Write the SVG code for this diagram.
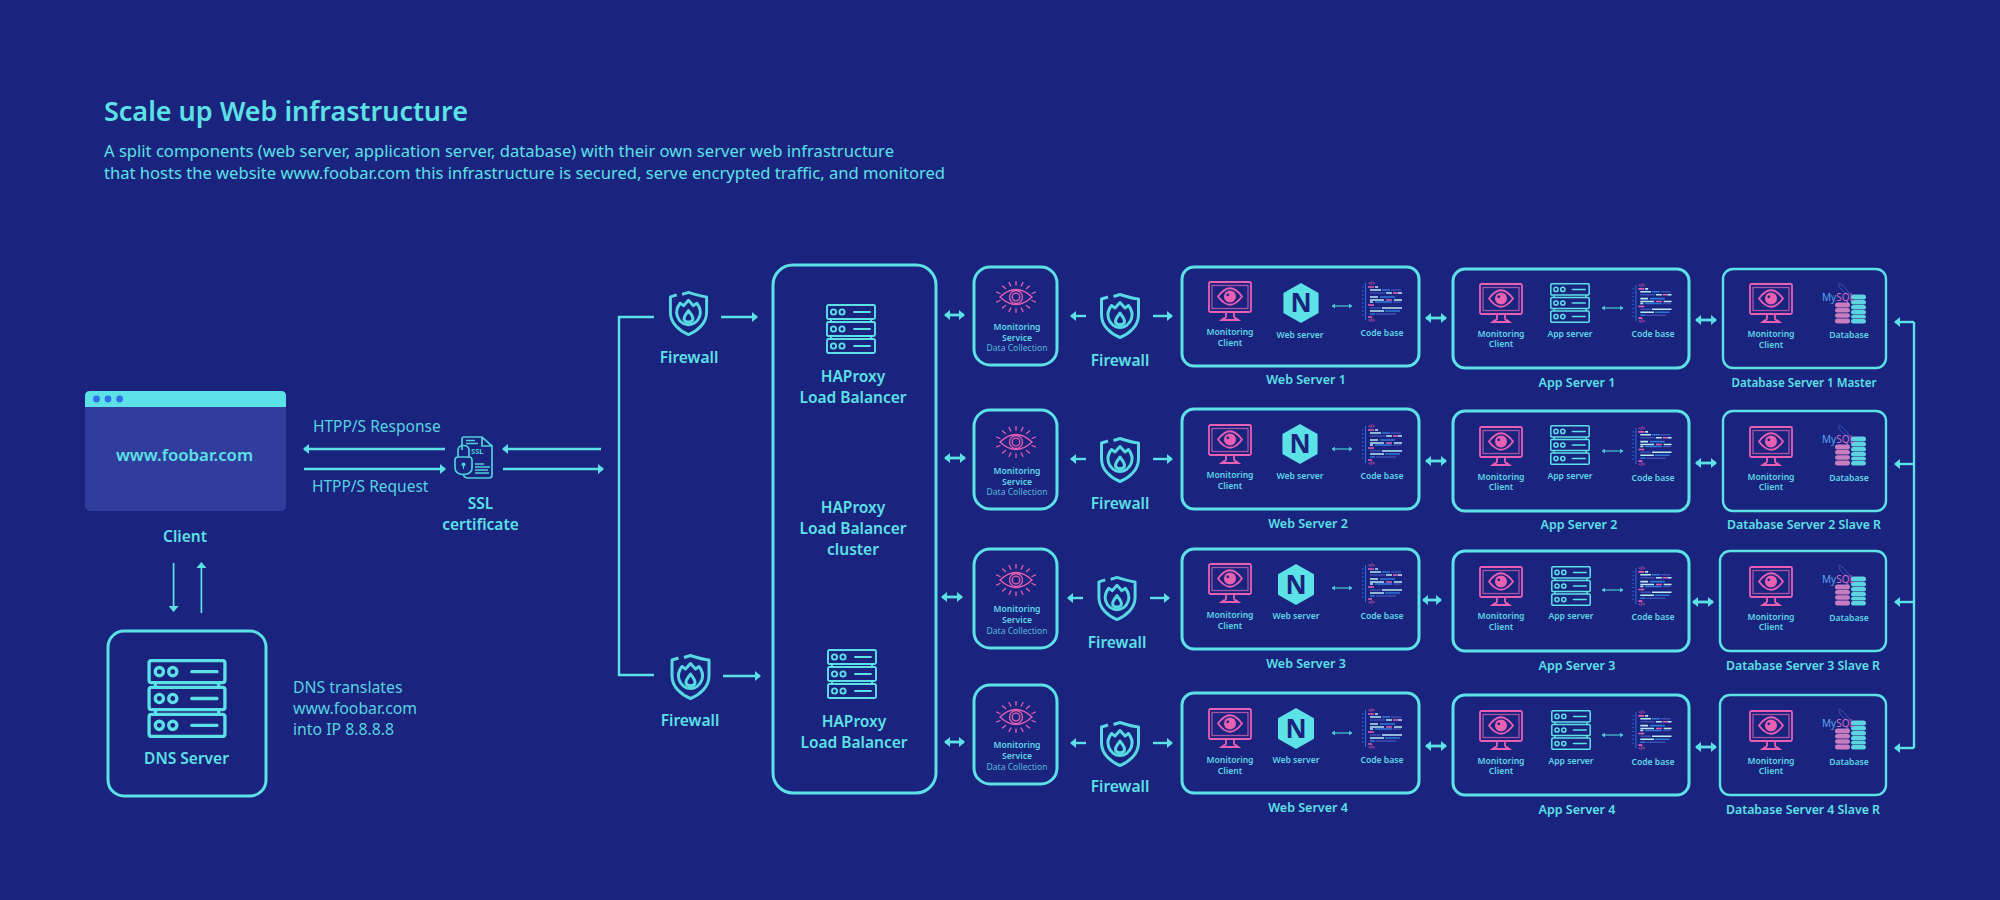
<svg xmlns="http://www.w3.org/2000/svg" width="2000" height="900" viewBox="0 0 2000 900">
<style>
text{font-family:"Noto Sans","Open Sans",sans-serif;fill:#5ce1e6}
.m{text-anchor:middle}
.title{font-size:27px;font-weight:600}
.body{font-size:16.5px;font-weight:400}
.note{font-size:15.5px;font-weight:400;fill:#57d3e0}
.lab{font-size:15.5px;font-weight:600}
.cap{font-size:12.5px;font-weight:600}
.sm{font-size:8.6px;font-weight:600;fill:#5fd6e6}
.dc{font-size:8.6px;font-weight:400;fill:#58b8dc}
.nx{font-size:26px;font-weight:700;fill:#1a237e}
.my{font-size:10px;font-weight:400;fill:#58a8ee}
.box{fill:none;stroke:#5ce1e6;stroke-width:3}
.thin{fill:none;stroke:#5ce1e6;stroke-width:2.4}
.con{fill:none;stroke:#5ce1e6;stroke-width:2.4}
.con2{fill:none;stroke:#5ce1e6;stroke-width:2.4;marker-end:url(#ah)}
.bi{fill:none;stroke:#5ce1e6;stroke-width:2.8;marker-start:url(#ah);marker-end:url(#ah)}
.tiny{fill:none;stroke:#4fc5d2;stroke-width:1.2;marker-start:url(#as);marker-end:url(#as)}
.ic{fill:none;stroke:#5ce1e6;stroke-width:var(--w,1.9)}
.pk{fill:none;stroke:#e95fb2;stroke-width:1.8}
.fw{fill:none;stroke:#57d8e2;stroke-width:3;stroke-linejoin:round}
</style>
<defs>
<marker id="ah" viewBox="0 0 6 10" refX="5" refY="5" markerWidth="6" markerHeight="10" markerUnits="userSpaceOnUse" orient="auto-start-reverse"><path d="M0 0L6 5L0 10Z" fill="#5ce1e6"/></marker>
<marker id="as" viewBox="0 0 4 6" refX="3.500" refY="3" markerWidth="3.500" markerHeight="5" markerUnits="userSpaceOnUse" orient="auto-start-reverse"><path d="M0 0L4 3L0 6Z" fill="#4fc5d2"/></marker>
<symbol id="mon" viewBox="0 0 44 40">
<rect x="1" y="1" width="42" height="30" rx="1.500" class="pk"/>
<rect x="4" y="4.500" width="36" height="23" fill="none" stroke="#a854a8" stroke-width="1.300"/>
<path d="M10 15.500Q22 -1 34 15.500Q22 32 10 15.500Z" class="pk"/>
<circle cx="22" cy="15.500" r="6" fill="#e95fb2"/><circle cx="19.800" cy="13.800" r="1.400" fill="#1a237e"/>
<path d="M18 31V35.500Q18 37 15.500 37.500L13.500 39H30.500L28.500 37.500Q26 37 26 35.500V31" class="pk"/>
</symbol>
<symbol id="srv" viewBox="0 0 50 50">
<g class="ic"><rect x="1" y="1" width="48" height="14" rx="1.500"/><rect x="1" y="18" width="48" height="14" rx="1.500"/><rect x="1" y="35" width="48" height="14" rx="1.500"/>
<path d="M5 15V18M45 15V18M5 32V35M45 32V35"/>
<circle cx="7.500" cy="8" r="2.600"/><circle cx="16" cy="8" r="2.600"/><circle cx="7.500" cy="25" r="2.600"/><circle cx="16" cy="25" r="2.600"/><circle cx="7.500" cy="42" r="2.600"/><circle cx="16" cy="42" r="2.600"/>
<path d="M28 8H44M28 25H44M28 42H44" stroke-linecap="round"/></g>
</symbol>
<symbol id="shield" viewBox="0 0 42 46">
<g class="fw"><path d="M9 4L2.500 6V22C2.500 33 12 41 21 44.500C30 41 39.500 33 39.500 22V6C33 5.500 27 3.500 21 1.500L14.500 3.500"/>
<path d="M21 9.500L26 15L29.500 12.500C33 17 34 21 32.500 25.500C30.500 31.500 25.500 34.500 21 34.500C16.500 34.500 11.500 31.500 9.500 25.500C8 21 9 17 12.500 12.500L16 15Z"/>
<path d="M21 20C23.500 24 26 26 25.500 29C24.500 32.500 17.500 32.500 16.500 29C16 26 18.500 24 21 20Z"/></g>
</symbol>
<symbol id="eye" viewBox="0 0 40 32">
<g fill="none" stroke="#e95fb2" stroke-width="1.300"><path d="M4 16Q20 1 36 16Q20 31 4 16Z"/><circle cx="20" cy="16" r="6.500"/><circle cx="20" cy="16" r="3.800"/>
<path stroke-linecap="round" d="M20 0V4M13 1.500L14.800 5M27 1.500L25.200 5M6.500 5L9.500 7.500M33.500 5L30.500 7.500M0.500 11L4 12.500M39.500 11L36 12.500M0.500 21L4 19.500M39.500 21L36 19.500M6.500 27L9.500 24.500M33.500 27L30.500 24.500M13 30.500L14.800 27M27 30.500L25.200 27M20 32V28"/></g>
</symbol>
<symbol id="hex" viewBox="0 0 36 41"><path d="M18 0L36 10.200V30.800L18 41L0 30.800V10.200Z" fill="#5ce1e6"/></symbol>
<symbol id="code" viewBox="0 0 41 41">
<rect x="3" y="2" width="1" height="37" fill="#2f6fe0"/>
<path d="M0 6h1.500M0 10h1.500M0 14h1.500M0 18h1.500M0 22h1.500M0 26h1.500M0 30h1.500M0 34h1.500" stroke="#2f78e8" stroke-width="1"/>
<g stroke-width="1.600"><path stroke="#e95fb2" d="M6 6h6M31 12h5M6 24h6M24 19h6M6 36h4"/>
<path stroke="#b8ecf4" d="M13 6h3M8 9h11M36 12h4M8 16h8M8 19h14M32 19h8M8 21h3M20 27h20M8 30h14M24 12h6"/>
<path stroke="#2f78d8" d="M20 9h8M18 16h15M13 21h17M23 30h15M8 33h5"/>
<path stroke="#3c4fb0" d="M29 9h10M8 12h15M31 21h8M8 27h11M14 33h20"/></g>
<text x="6" y="4" style="font-size:4.500px;fill:#e95fb2;font-weight:600">&lt;/&gt;</text>
<text x="6" y="40.500" style="font-size:4.500px;fill:#e95fb2;font-weight:600">&lt;/&gt;</text>
</symbol>
<symbol id="db" viewBox="0 0 46 42">
<path d="M17 0C21 2 25 6 28 12M17 0C16 4 20 8 24 10" fill="none" stroke="#3c55c0" stroke-width="0.900"/>
<g fill="#c77dc0"><rect x="13" y="19.500" width="15" height="5" rx="2.500"/><rect x="13" y="25" width="15" height="4.600" rx="2.300"/><rect x="13" y="30.200" width="15" height="4.600" rx="2.300"/><rect x="13" y="35.400" width="15" height="5.100" rx="2.300"/></g>
<g fill="#5cd3de"><rect x="29" y="11.500" width="15" height="5" rx="2.500"/><rect x="29" y="17" width="15" height="4.400" rx="2.200"/><rect x="29" y="22" width="15" height="4.400" rx="2.200"/><rect x="29" y="27" width="15" height="4.400" rx="2.200"/><rect x="29" y="32" width="15" height="3.500" rx="1.700"/><rect x="29" y="36" width="15" height="4.500" rx="2.200"/></g>
</symbol>
<symbol id="cert" viewBox="0 0 39 43">
<g fill="none" stroke="#50cfd8" stroke-width="1.700"><path d="M8 14V3Q8 1 10 1H28L38 10V39Q38 42 35 42H14Q10 42 9 38"/><path d="M28 1V10H38"/>
<path d="M4 21V14.500Q4 9.500 9.500 9.500Q15 9.500 15 14.500V21"/><path d="M1 24Q1 21 4 21H15Q18 21 18 24V32Q18 38 9.500 38.500Q1 38 1 32Z"/>
<path d="M12 4.500H21M12 7.500H24M21 31H36M21 34H34M21 37H35M21 28H30"/></g>
<circle cx="9.500" cy="28.500" r="2" fill="#50cfd8"/><rect x="9" y="29" width="1" height="4" fill="#50cfd8"/>
<text x="17" y="18" style="font-size:7.500px;font-weight:700;fill:#50cfd8">SSL</text>
</symbol>
</defs>
<rect width="2000" height="900" fill="#1a237e"/>

<g id="heading">
<text x="104" y="121" class="title" textLength="364" lengthAdjust="spacingAndGlyphs">Scale up Web infrastructure</text>
<text x="104" y="157" class="body" textLength="790" lengthAdjust="spacingAndGlyphs">A split components (web server, application server, database) with their own server web infrastructure</text>
<text x="104" y="179" class="body" textLength="841" lengthAdjust="spacingAndGlyphs">that hosts the website www.foobar.com this infrastructure is secured, serve encrypted traffic, and monitored</text>
</g>

<g id="connectors">
<path class="con2" d="M445 449H304"/><path class="con2" d="M304 469H445"/>
<path class="con2" d="M601 449H503"/><path class="con2" d="M503 469H603"/>
<path class="con2" style="stroke-width:1.700" d="M173.600 563V611"/><path class="con2" style="stroke-width:1.700" d="M201.400 613V563"/>
<path class="con" d="M654 317H619V675H654"/>
<path class="con2" d="M721 317H757"/><path class="con2" d="M723 676H760"/>
<path class="bi" d="M945 315H964"/><path class="bi" d="M945 458H965"/><path class="bi" d="M942 597H962"/><path class="bi" d="M945 742H964"/>
<path class="con2" d="M1086 316H1071"/><path class="con2" d="M1153 316H1172"/>
<path class="con2" d="M1086 459H1071"/><path class="con2" d="M1153 459H1172"/>
<path class="con2" d="M1083 598H1068"/><path class="con2" d="M1150 598H1169"/>
<path class="con2" d="M1086 743H1071"/><path class="con2" d="M1153 743H1172"/>
<path class="bi" d="M1426 318H1446"/><path class="bi" d="M1426 461H1446"/><path class="bi" d="M1423 600H1441"/><path class="bi" d="M1426 746H1446"/>
<path class="bi" d="M1696 320H1716"/><path class="bi" d="M1696 463H1716"/><path class="bi" d="M1693 602H1713"/><path class="bi" d="M1696 747H1716"/>
<path class="con" d="M1914 322V748"/>
<path class="con2" d="M1914 322H1895"/><path class="con2" d="M1914 464H1895"/><path class="con2" d="M1914 602H1895"/><path class="con2" d="M1914 748H1895"/>
<path class="tiny" d="M1332 306H1352"/><path class="tiny" d="M1332 449H1352"/><path class="tiny" d="M1332 588H1352"/><path class="tiny" d="M1332 733H1352"/>
<path class="tiny" d="M1602 308H1623"/><path class="tiny" d="M1602 451H1623"/><path class="tiny" d="M1602 590H1623"/><path class="tiny" d="M1602 735H1623"/>
</g>

<g id="client">
<rect x="85" y="391" width="201" height="120" rx="5" fill="#303d9c"/>
<path d="M85 407V396Q85 391 90 391H281Q286 391 286 396V407Z" fill="#5ce1e6"/>
<circle cx="96.500" cy="399" r="3.400" fill="#2f6fe8"/><circle cx="108" cy="399" r="3.400" fill="#2f6fe8"/><circle cx="119.600" cy="399" r="3.400" fill="#2f6fe8"/>
<text x="184.500" y="461" class="m" style="font-size:16.800px;font-weight:600">www.foobar.com</text>
<text x="185" y="542" class="m lab">Client</text>
</g>
<g id="ssl-labels">
<text x="313" y="432" class="note">HTPP/S Response</text>
<text x="312" y="492" class="note">HTPP/S Request</text>
</g>
<g id="ssl">
<use href="#cert" x="454" y="436" width="39" height="43"/>
<text x="480.500" y="509" class="m lab">SSL</text>
<text x="480.500" y="530" class="m lab">certificate</text>
</g>
<g id="dns">
<rect x="108" y="631" width="158" height="165" rx="16" class="box"/>
<use href="#srv" x="147" y="659" width="80" height="79" style="--w:2.100"/>
<text x="186.500" y="764" class="m lab">DNS Server</text>
</g>
<g id="dns-note">
<text x="293" y="693" class="note" style="font-size:15.800px">DNS translates</text>
<text x="293" y="714" class="note" style="font-size:15.800px">www.foobar.com</text>
<text x="293" y="735" class="note" style="font-size:15.800px">into IP 8.8.8.8</text>
</g>

<g id="firewall-top"><use href="#shield" x="667" y="291" width="43" height="45"/><text x="689" y="363" class="m lab">Firewall</text></g>
<g id="firewall-bottom"><use href="#shield" x="669" y="654" width="43" height="46"/><text x="690" y="726" class="m lab">Firewall</text></g>

<g id="lb-cluster">
<rect x="773" y="265" width="163" height="528" rx="20" class="box"/>
<use href="#srv" x="826" y="304" width="50" height="50"/>
<text x="853" y="382" class="m lab">HAProxy</text><text x="853" y="403" class="m lab">Load Balancer</text>
<text x="853" y="513" class="m lab">HAProxy</text><text x="853" y="534" class="m lab">Load Balancer</text><text x="853" y="555" class="m lab">cluster</text>
<use href="#srv" x="827" y="649" width="50" height="50"/>
<text x="854" y="727" class="m lab">HAProxy</text><text x="854" y="748" class="m lab">Load Balancer</text>
</g>

<g id="monitoring-1"><rect x="974" y="267" width="83" height="98" rx="16" class="box"/><use href="#eye" x="996" y="281" width="40" height="32"/><text x="1017" y="330" class="m sm">Monitoring</text><text x="1017" y="341" class="m sm">Service</text><text x="1017" y="351" class="m dc">Data Collection</text></g>
<g id="monitoring-2"><rect x="974" y="410" width="83" height="99" rx="16" class="box"/><use href="#eye" x="996" y="426" width="40" height="32"/><text x="1017" y="474" class="m sm">Monitoring</text><text x="1017" y="484.500" class="m sm">Service</text><text x="1017" y="495" class="m dc">Data Collection</text></g>
<g id="monitoring-3"><rect x="974" y="549" width="83" height="99" rx="16" class="box"/><use href="#eye" x="996" y="564" width="40" height="32"/><text x="1017" y="612" class="m sm">Monitoring</text><text x="1017" y="623" class="m sm">Service</text><text x="1017" y="633.500" class="m dc">Data Collection</text></g>
<g id="monitoring-4"><rect x="974" y="685" width="83" height="99" rx="16" class="box"/><use href="#eye" x="996" y="701" width="40" height="32"/><text x="1017" y="748" class="m sm">Monitoring</text><text x="1017" y="759" class="m sm">Service</text><text x="1017" y="770" class="m dc">Data Collection</text></g>

<g id="firewall-1"><use href="#shield" x="1099" y="293" width="42" height="46"/><text x="1120" y="366" class="m lab">Firewall</text></g>
<g id="firewall-2"><use href="#shield" x="1099" y="437" width="42" height="46"/><text x="1120" y="509" class="m lab">Firewall</text></g>
<g id="firewall-3"><use href="#shield" x="1096" y="576" width="42" height="45"/><text x="1117" y="648" class="m lab">Firewall</text></g>
<g id="firewall-4"><use href="#shield" x="1099" y="721" width="42" height="46"/><text x="1120" y="792" class="m lab">Firewall</text></g>

<g id="web-1"><rect x="1182" y="267" width="237" height="99" rx="12" class="box"/><use href="#mon" x="1208" y="281" width="44" height="40"/><use href="#hex" x="1283" y="283" width="36" height="40"/><text x="1301" y="312" class="m nx">N</text><use href="#code" x="1362" y="281" width="41" height="41"/><text x="1230" y="335" class="m sm">Monitoring</text><text x="1230" y="346" class="m sm">Client</text><text x="1300" y="338" class="m sm">Web server</text><text x="1382" y="336" class="m sm">Code base</text><text x="1306" y="384" class="m cap">Web Server 1</text></g>
<g id="web-2"><rect x="1182" y="409" width="237" height="100" rx="12" class="box"/><use href="#mon" x="1208" y="424" width="44" height="40"/><use href="#hex" x="1282" y="424" width="36" height="40"/><text x="1300" y="453" class="m nx">N</text><use href="#code" x="1362" y="424" width="41" height="41"/><text x="1230" y="478" class="m sm">Monitoring</text><text x="1230" y="488.500" class="m sm">Client</text><text x="1300" y="479" class="m sm">Web server</text><text x="1382" y="479" class="m sm">Code base</text><text x="1308" y="528" class="m cap">Web Server 2</text></g>
<g id="web-3"><rect x="1182" y="549" width="237" height="100" rx="12" class="box"/><use href="#mon" x="1208" y="563" width="44" height="40"/><use href="#hex" x="1278" y="564" width="36" height="41"/><text x="1296" y="594" class="m nx">N</text><use href="#code" x="1362" y="563" width="41" height="41"/><text x="1230" y="618" class="m sm">Monitoring</text><text x="1230" y="628.500" class="m sm">Client</text><text x="1296" y="619" class="m sm">Web server</text><text x="1382" y="619" class="m sm">Code base</text><text x="1306" y="668" class="m cap">Web Server 3</text></g>
<g id="web-4"><rect x="1182" y="693" width="237" height="100" rx="12" class="box"/><use href="#mon" x="1208" y="708" width="44" height="40"/><use href="#hex" x="1278" y="708" width="36" height="41"/><text x="1296" y="738" class="m nx">N</text><use href="#code" x="1362" y="708" width="41" height="41"/><text x="1230" y="763" class="m sm">Monitoring</text><text x="1230" y="773.500" class="m sm">Client</text><text x="1296" y="763" class="m sm">Web server</text><text x="1382" y="763" class="m sm">Code base</text><text x="1308" y="812" class="m cap">Web Server 4</text></g>

<g id="app-1"><rect x="1453" y="269" width="236" height="99" rx="12" class="box"/><use href="#mon" x="1479" y="283" width="44" height="40"/><use href="#srv" x="1550" y="283" width="40" height="40"/><use href="#code" x="1632" y="283" width="41" height="40"/><text x="1501" y="337" class="m sm">Monitoring</text><text x="1501" y="347" class="m sm">Client</text><text x="1570" y="337" class="m sm">App server</text><text x="1653" y="337" class="m sm">Code base</text><text x="1577" y="387" class="m cap">App Server 1</text></g>
<g id="app-2"><rect x="1453" y="411" width="236" height="100" rx="12" class="box"/><use href="#mon" x="1479" y="426" width="44" height="40"/><use href="#srv" x="1550" y="425" width="40" height="40"/><use href="#code" x="1632" y="426" width="41" height="40"/><text x="1501" y="480" class="m sm">Monitoring</text><text x="1501" y="490" class="m sm">Client</text><text x="1570" y="479" class="m sm">App server</text><text x="1653" y="481" class="m sm">Code base</text><text x="1579" y="529" class="m cap">App Server 2</text></g>
<g id="app-3"><rect x="1453" y="551" width="236" height="100" rx="12" class="box"/><use href="#mon" x="1479" y="566" width="44" height="40"/><use href="#srv" x="1551" y="566" width="40" height="40"/><use href="#code" x="1632" y="566" width="41" height="40"/><text x="1501" y="619" class="m sm">Monitoring</text><text x="1501" y="630" class="m sm">Client</text><text x="1571" y="619" class="m sm">App server</text><text x="1653" y="620" class="m sm">Code base</text><text x="1577" y="670" class="m cap">App Server 3</text></g>
<g id="app-4"><rect x="1453" y="695" width="236" height="100" rx="12" class="box"/><use href="#mon" x="1479" y="710" width="44" height="40"/><use href="#srv" x="1551" y="710" width="40" height="40"/><use href="#code" x="1632" y="710" width="41" height="40"/><text x="1501" y="764" class="m sm">Monitoring</text><text x="1501" y="774" class="m sm">Client</text><text x="1571" y="764" class="m sm">App server</text><text x="1653" y="765" class="m sm">Code base</text><text x="1577" y="814" class="m cap">App Server 4</text></g>

<g id="db-1"><rect x="1723" y="269" width="163" height="99" rx="10" class="thin"/><use href="#mon" x="1749" y="283" width="44" height="40"/><use href="#db" x="1822" y="283" width="46" height="42"/><text x="1822" y="301" class="my">My<tspan fill="#d070c8">SQL</tspan></text><text x="1771" y="337" class="m sm">Monitoring</text><text x="1771" y="348" class="m sm">Client</text><text x="1849" y="338" class="m sm">Database</text><text x="1804" y="387" class="m cap" textLength="145" lengthAdjust="spacingAndGlyphs">Database Server 1 Master</text></g>
<g id="db-2"><rect x="1723" y="411" width="163" height="100" rx="10" class="thin"/><use href="#mon" x="1749" y="426" width="44" height="40"/><use href="#db" x="1822" y="425" width="46" height="42"/><text x="1822" y="443" class="my">My<tspan fill="#d070c8">SQL</tspan></text><text x="1771" y="480" class="m sm">Monitoring</text><text x="1771" y="490" class="m sm">Client</text><text x="1849" y="481" class="m sm">Database</text><text x="1804" y="529" class="m cap" textLength="154" lengthAdjust="spacingAndGlyphs">Database Server 2 Slave R</text></g>
<g id="db-3"><rect x="1720" y="551" width="166" height="100" rx="10" class="thin"/><use href="#mon" x="1749" y="566" width="44" height="40"/><use href="#db" x="1822" y="565" width="46" height="42"/><text x="1822" y="583" class="my">My<tspan fill="#d070c8">SQL</tspan></text><text x="1771" y="620" class="m sm">Monitoring</text><text x="1771" y="630" class="m sm">Client</text><text x="1849" y="621" class="m sm">Database</text><text x="1803" y="670" class="m cap" textLength="154" lengthAdjust="spacingAndGlyphs">Database Server 3 Slave R</text></g>
<g id="db-4"><rect x="1720" y="695" width="166" height="100" rx="10" class="thin"/><use href="#mon" x="1749" y="710" width="44" height="40"/><use href="#db" x="1822" y="709" width="46" height="42"/><text x="1822" y="727" class="my">My<tspan fill="#d070c8">SQL</tspan></text><text x="1771" y="764" class="m sm">Monitoring</text><text x="1771" y="774" class="m sm">Client</text><text x="1849" y="765" class="m sm">Database</text><text x="1803" y="814" class="m cap" textLength="154" lengthAdjust="spacingAndGlyphs">Database Server 4 Slave R</text></g>
</svg>
